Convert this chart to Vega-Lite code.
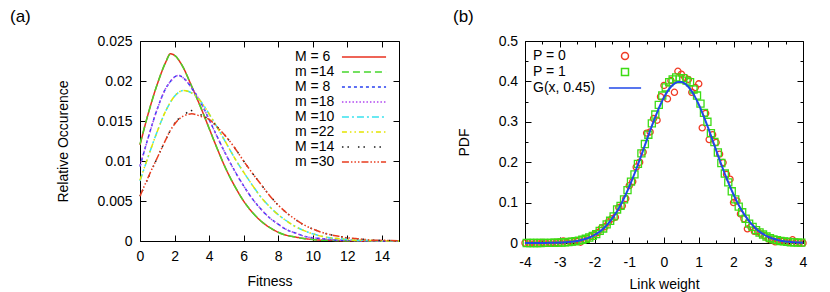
{
 "$schema": "https://vega.github.io/schema/vega-lite/v6.json",
 "padding": {"left": 9, "top": 7, "right": 5, "bottom": 0},
 "spacing": 49,
 "background": "white",
 "resolve": {"scale": {"color": "independent", "strokeDash": "independent", "shape": "independent"}, "legend": {"color": "independent", "strokeDash": "independent", "shape": "independent"}},
 "datasets": {
  "fit": [
   {"x":0,"M = 6":0.0120,"m =14":0.0121,"M = 8":0.0093,"m =18":0.0094,"M =10":0.0075,"m =22":0.0076,"M =14":0.0056,"m =30":0.0056},
   {"x":0.5,"M = 6":0.0161,"m =14":0.0161,"M = 8":0.0131,"m =18":0.0131,"M =10":0.0107,"m =22":0.0107,"M =14":0.0080,"m =30":0.0081},
   {"x":1,"M = 6":0.0196,"m =14":0.0196,"M = 8":0.0165,"m =18":0.0165,"M =10":0.0137,"m =22":0.0137,"M =14":0.0104,"m =30":0.0104},
   {"x":1.5,"M = 6":0.0224,"m =14":0.0224,"M = 8":0.0191,"m =18":0.0191,"M =10":0.0163,"m =22":0.0163,"M =14":0.0127,"m =30":0.0127},
   {"x":1.75,"M = 6":0.0234,"m =14":0.0233,"M = 8":0.0199,"m =18":0.0199,"M =10":0.0173,"m =22":0.0173,"M =14":0.0138,"m =30":0.0138},
   {"x":2,"M = 6":0.0232,"m =14":0.0232,"M = 8":0.0205,"m =18":0.0205,"M =10":0.0181,"m =22":0.0181,"M =14":0.0147,"m =30":0.0146},
   {"x":2.25,"M = 6":0.0226,"m =14":0.0226,"M = 8":0.0207,"m =18":0.0207,"M =10":0.0186,"m =22":0.0186,"M =14":0.0153,"m =30":0.0152},
   {"x":2.5,"M = 6":0.0217,"m =14":0.0217,"M = 8":0.0204,"m =18":0.0204,"M =10":0.0188,"m =22":0.0188,"M =14":0.0157,"m =30":0.0156},
   {"x":3,"M = 6":0.0193,"m =14":0.0193,"M = 8":0.0191,"m =18":0.0191,"M =10":0.0185,"m =22":0.0185,"M =14":0.0163,"m =30":0.0159},
   {"x":3.5,"M = 6":0.0168,"m =14":0.0168,"M = 8":0.0174,"m =18":0.0174,"M =10":0.0175,"m =22":0.0175,"M =14":0.0158,"m =30":0.0156},
   {"x":4,"M = 6":0.0141,"m =14":0.0141,"M = 8":0.0152,"m =18":0.0152,"M =10":0.0159,"m =22":0.0159,"M =14":0.0152,"m =30":0.0152},
   {"x":4.5,"M = 6":0.0114,"m =14":0.0114,"M = 8":0.0129,"m =18":0.0129,"M =10":0.0141,"m =22":0.0141,"M =14":0.0142,"m =30":0.0142},
   {"x":5,"M = 6":0.0089,"m =14":0.0089,"M = 8":0.0107,"m =18":0.0107,"M =10":0.0122,"m =22":0.0122,"M =14":0.0130,"m =30":0.0130},
   {"x":5.5,"M = 6":0.0068,"m =14":0.0068,"M = 8":0.0087,"m =18":0.0087,"M =10":0.0103,"m =22":0.0103,"M =14":0.0116,"m =30":0.0116},
   {"x":6,"M = 6":0.0050,"m =14":0.0050,"M = 8":0.0069,"m =18":0.0069,"M =10":0.0086,"m =22":0.0086,"M =14":0.0100,"m =30":0.0100},
   {"x":6.5,"M = 6":0.0036,"m =14":0.0036,"M = 8":0.0053,"m =18":0.0053,"M =10":0.0070,"m =22":0.0070,"M =14":0.0085,"m =30":0.0085},
   {"x":7,"M = 6":0.0025,"m =14":0.0025,"M = 8":0.0040,"m =18":0.0040,"M =10":0.0055,"m =22":0.0055,"M =14":0.0071,"m =30":0.0071},
   {"x":7.5,"M = 6":0.0017,"m =14":0.0017,"M = 8":0.0029,"m =18":0.0029,"M =10":0.0043,"m =22":0.0043,"M =14":0.0057,"m =30":0.0057},
   {"x":8,"M = 6":0.0011,"m =14":0.0011,"M = 8":0.0021,"m =18":0.0021,"M =10":0.0033,"m =22":0.0033,"M =14":0.0045,"m =30":0.0045},
   {"x":8.5,"M = 6":0.0007,"m =14":0.0007,"M = 8":0.0014,"m =18":0.0014,"M =10":0.0025,"m =22":0.0025,"M =14":0.0035,"m =30":0.0035},
   {"x":9,"M = 6":0.0005,"m =14":0.0005,"M = 8":0.0010,"m =18":0.0010,"M =10":0.0018,"m =22":0.0018,"M =14":0.0027,"m =30":0.0027},
   {"x":9.5,"M = 6":0.0003,"m =14":0.0003,"M = 8":0.0006,"m =18":0.0006,"M =10":0.0013,"m =22":0.0013,"M =14":0.0020,"m =30":0.0020},
   {"x":10,"M = 6":0.0002,"m =14":0.0002,"M = 8":0.0004,"m =18":0.0004,"M =10":0.0009,"m =22":0.0009,"M =14":0.0015,"m =30":0.0015},
   {"x":10.5,"M = 6":0.0001,"m =14":0.0001,"M = 8":0.0003,"m =18":0.0003,"M =10":0.0006,"m =22":0.0006,"M =14":0.0011,"m =30":0.0011},
   {"x":11,"M = 6":0.0001,"m =14":0.0001,"M = 8":0.0002,"m =18":0.0002,"M =10":0.0004,"m =22":0.0004,"M =14":0.0008,"m =30":0.0008},
   {"x":11.5,"M = 6":0.00005,"m =14":0.00005,"M = 8":0.0001,"m =18":0.0001,"M =10":0.0003,"m =22":0.0003,"M =14":0.0006,"m =30":0.0006},
   {"x":12,"M = 6":0.00003,"m =14":0.00003,"M = 8":0.0001,"m =18":0.0001,"M =10":0.0002,"m =22":0.0002,"M =14":0.0004,"m =30":0.0004},
   {"x":12.5,"M = 6":0.00002,"m =14":0.00002,"M = 8":0.00005,"m =18":0.00005,"M =10":0.0001,"m =22":0.0001,"M =14":0.0003,"m =30":0.0003},
   {"x":13,"M = 6":0.00001,"m =14":0.00001,"M = 8":0.00003,"m =18":0.00003,"M =10":0.0001,"m =22":0.0001,"M =14":0.0002,"m =30":0.0002},
   {"x":13.5,"M = 6":0,"m =14":0,"M = 8":0.00002,"m =18":0.00002,"M =10":0.00005,"m =22":0.00005,"M =14":0.0001,"m =30":0.0001},
   {"x":14,"M = 6":0,"m =14":0,"M = 8":0.00001,"m =18":0.00001,"M =10":0.00003,"m =22":0.00003,"M =14":0.0001,"m =30":0.0001},
   {"x":14.5,"M = 6":0,"m =14":0,"M = 8":0,"m =18":0,"M =10":0.00001,"m =22":0.00001,"M =14":0.00005,"m =30":0.00005},
   {"x":15,"M = 6":0,"m =14":0,"M = 8":0,"m =18":0,"M =10":0,"m =22":0,"M =14":0.00002,"m =30":0.00002}
  ],
  "p0": [
   {"x":-4,"y":0},{"x":-3.9,"y":0},{"x":-3.8,"y":0.0005},{"x":-3.7,"y":0},{"x":-3.6,"y":0},{"x":-3.5,"y":0.001},{"x":-3.4,"y":0},{"x":-3.3,"y":0.0005},{"x":-3.2,"y":0.001},{"x":-3.1,"y":0.001},
   {"x":-3.0,"y":0.002},{"x":-2.9,"y":0.005},{"x":-2.8,"y":0.002},{"x":-2.7,"y":0.004},{"x":-2.6,"y":0.003},{"x":-2.5,"y":0.004},{"x":-2.4,"y":0.002},{"x":-2.3,"y":0.008},{"x":-2.2,"y":0.011},{"x":-2.1,"y":0.017},
   {"x":-2.0,"y":0.022},{"x":-1.9,"y":0.026},{"x":-1.8,"y":0.037},{"x":-1.7,"y":0.040},{"x":-1.6,"y":0.052},{"x":-1.5,"y":0.060},{"x":-1.4,"y":0.064},{"x":-1.3,"y":0.088},{"x":-1.2,"y":0.092},{"x":-1.1,"y":0.110},
   {"x":-1.0,"y":0.142},{"x":-0.9,"y":0.152},{"x":-0.8,"y":0.188},{"x":-0.7,"y":0.200},{"x":-0.6,"y":0.225},{"x":-0.5,"y":0.272},{"x":-0.4,"y":0.275},{"x":-0.3,"y":0.308},{"x":-0.2,"y":0.304},{"x":-0.1,"y":0.362},
   {"x":0.0,"y":0.390},{"x":0.1,"y":0.357},{"x":0.2,"y":0.402},{"x":0.3,"y":0.373},{"x":0.4,"y":0.425},{"x":0.5,"y":0.418},{"x":0.6,"y":0.410},{"x":0.7,"y":0.405},{"x":0.8,"y":0.373},{"x":0.9,"y":0.385},
   {"x":1.0,"y":0.394},{"x":1.1,"y":0.285},{"x":1.2,"y":0.321},{"x":1.3,"y":0.256},{"x":1.4,"y":0.268},{"x":1.5,"y":0.249},{"x":1.6,"y":0.220},{"x":1.7,"y":0.199},{"x":1.8,"y":0.170},{"x":1.9,"y":0.158},
   {"x":2.0,"y":0.100},{"x":2.1,"y":0.104},{"x":2.2,"y":0.072},{"x":2.3,"y":0.060},{"x":2.4,"y":0.035},{"x":2.5,"y":0.040},{"x":2.6,"y":0.029},{"x":2.7,"y":0.028},{"x":2.8,"y":0.022},{"x":2.9,"y":0.018},
   {"x":3.0,"y":0.010},{"x":3.1,"y":0.008},{"x":3.2,"y":0.003},{"x":3.3,"y":0.004},{"x":3.4,"y":0.004},{"x":3.5,"y":0.002},{"x":3.6,"y":0.003},{"x":3.7,"y":0.008},{"x":3.8,"y":0.002},{"x":3.9,"y":0.001},{"x":4.0,"y":0}
  ],
  "p1": [
   {"x":-3.95,"y":0},{"x":-3.85,"y":0},{"x":-3.75,"y":0},{"x":-3.65,"y":0},{"x":-3.55,"y":0.0001},{"x":-3.45,"y":0.0002},{"x":-3.35,"y":0.0003},{"x":-3.25,"y":0.0004},{"x":-3.15,"y":0.0006},{"x":-3.05,"y":0.0009},
   {"x":-2.95,"y":0.0012},{"x":-2.85,"y":0.0017},{"x":-2.75,"y":0.0024},{"x":-2.65,"y":0.0033},{"x":-2.55,"y":0.0044},{"x":-2.45,"y":0.006},{"x":-2.35,"y":0.0079},{"x":-2.25,"y":0.0104},{"x":-2.15,"y":0.0136},{"x":-2.05,"y":0.0175},
   {"x":-1.95,"y":0.022},{"x":-1.85,"y":0.030},{"x":-1.75,"y":0.036},{"x":-1.65,"y":0.046},{"x":-1.55,"y":0.055},{"x":-1.45,"y":0.066},{"x":-1.35,"y":0.083},{"x":-1.25,"y":0.092},{"x":-1.15,"y":0.108},{"x":-1.05,"y":0.131},
   {"x":-0.95,"y":0.152},{"x":-0.85,"y":0.170},{"x":-0.75,"y":0.196},{"x":-0.65,"y":0.222},{"x":-0.55,"y":0.245},{"x":-0.45,"y":0.268},{"x":-0.35,"y":0.296},{"x":-0.25,"y":0.318},{"x":-0.15,"y":0.342},{"x":-0.05,"y":0.365},
   {"x":0.05,"y":0.385},{"x":0.15,"y":0.398},{"x":0.25,"y":0.405},{"x":0.35,"y":0.410},{"x":0.45,"y":0.405},{"x":0.55,"y":0.408},{"x":0.65,"y":0.402},{"x":0.75,"y":0.398},{"x":0.85,"y":0.380},{"x":0.95,"y":0.365},
   {"x":1.05,"y":0.345},{"x":1.15,"y":0.322},{"x":1.25,"y":0.300},{"x":1.35,"y":0.272},{"x":1.45,"y":0.250},{"x":1.55,"y":0.224},{"x":1.65,"y":0.198},{"x":1.75,"y":0.172},{"x":1.85,"y":0.150},{"x":1.95,"y":0.128},
   {"x":2.05,"y":0.108},{"x":2.15,"y":0.090},{"x":2.25,"y":0.076},{"x":2.35,"y":0.060},{"x":2.45,"y":0.048},{"x":2.55,"y":0.040},{"x":2.65,"y":0.032},{"x":2.75,"y":0.026},{"x":2.85,"y":0.021},{"x":2.95,"y":0.016},
   {"x":3.05,"y":0.012},{"x":3.15,"y":0.009},{"x":3.25,"y":0.007},{"x":3.35,"y":0.005},{"x":3.45,"y":0.004},{"x":3.55,"y":0.003},{"x":3.65,"y":0.002},{"x":3.75,"y":0.0015},{"x":3.85,"y":0.001},{"x":3.95,"y":0.0008}
  ],
  "g": [
   {"x":-4,"y":0},{"x":-3.9,"y":0},{"x":-3.8,"y":0.0001},{"x":-3.7,"y":0.0001},{"x":-3.6,"y":0.0001},{"x":-3.5,"y":0.0002},{"x":-3.4,"y":0.0002},{"x":-3.3,"y":0.0004},{"x":-3.2,"y":0.0005},{"x":-3.1,"y":0.0007},
   {"x":-3.0,"y":0.0010},{"x":-2.9,"y":0.0015},{"x":-2.8,"y":0.0020},{"x":-2.7,"y":0.0028},{"x":-2.6,"y":0.0038},{"x":-2.5,"y":0.0051},{"x":-2.4,"y":0.0069},{"x":-2.3,"y":0.0091},{"x":-2.2,"y":0.0119},{"x":-2.1,"y":0.0154},
   {"x":-2.0,"y":0.0198},{"x":-1.9,"y":0.0252},{"x":-1.8,"y":0.0317},{"x":-1.7,"y":0.0396},{"x":-1.6,"y":0.0488},{"x":-1.5,"y":0.0596},{"x":-1.4,"y":0.0721},{"x":-1.3,"y":0.0863},{"x":-1.2,"y":0.1023},{"x":-1.1,"y":0.1200},
   {"x":-1.0,"y":0.1394},{"x":-0.9,"y":0.1604},{"x":-0.8,"y":0.1826},{"x":-0.7,"y":0.2059},{"x":-0.6,"y":0.2299},{"x":-0.5,"y":0.2541},{"x":-0.4,"y":0.2780},{"x":-0.3,"y":0.3011},{"x":-0.2,"y":0.3230},{"x":-0.1,"y":0.3429},
   {"x":0.0,"y":0.3605},{"x":0.1,"y":0.3752},{"x":0.2,"y":0.3867},{"x":0.3,"y":0.3945},{"x":0.4,"y":0.3984},{"x":0.5,"y":0.3984},{"x":0.6,"y":0.3945},{"x":0.7,"y":0.3867},{"x":0.8,"y":0.3752},{"x":0.9,"y":0.3605},
   {"x":1.0,"y":0.3429},{"x":1.1,"y":0.3230},{"x":1.2,"y":0.3011},{"x":1.3,"y":0.2780},{"x":1.4,"y":0.2541},{"x":1.5,"y":0.2299},{"x":1.6,"y":0.2059},{"x":1.7,"y":0.1826},{"x":1.8,"y":0.1604},{"x":1.9,"y":0.1394},
   {"x":2.0,"y":0.1200},{"x":2.1,"y":0.1023},{"x":2.2,"y":0.0863},{"x":2.3,"y":0.0721},{"x":2.4,"y":0.0596},{"x":2.5,"y":0.0488},{"x":2.6,"y":0.0396},{"x":2.7,"y":0.0317},{"x":2.8,"y":0.0252},{"x":2.9,"y":0.0198},
   {"x":3.0,"y":0.0154},{"x":3.1,"y":0.0119},{"x":3.2,"y":0.0091},{"x":3.3,"y":0.0069},{"x":3.4,"y":0.0051},{"x":3.5,"y":0.0038},{"x":3.6,"y":0.0028},{"x":3.7,"y":0.0020},{"x":3.8,"y":0.0015},{"x":3.9,"y":0.0010},{"x":4.0,"y":0.0007}
  ]
 },
 "hconcat": [
  {
   "width": 259,
   "height": 200,
   "title": {"text": "(a)", "anchor": "start", "frame": "group", "dx": -130, "offset": 8},
   "data": {"name": "fit"},
   "transform": [{"fold": ["M = 6", "m =14", "M = 8", "m =18", "M =10", "m =22", "M =14", "m =30"], "as": ["s", "y"]}],
   "layer": [
    {
     "mark": {"type": "line", "strokeWidth": 1.5, "interpolate": "monotone"},
     "encoding": {
      "x": {"field": "x", "type": "quantitative", "scale": {"domain": [0, 15], "nice": false, "zero": false},
            "axis": {"orient": "bottom", "values": [0, 2, 4, 6, 8, 10, 12, 14], "tickSize": -6, "labelPadding": 14, "labelFlush": false, "labelOverlap": false, "labelExpr": "'' + datum.value", "title": "Fitness", "titlePadding": 11}},
      "y": {"field": "y", "type": "quantitative", "scale": {"domain": [0, 0.025], "nice": false},
            "axis": {"orient": "left", "values": [0, 0.005, 0.01, 0.015, 0.02, 0.025], "tickSize": -6, "labelPadding": 14, "labelFlush": false, "labelOverlap": false, "labelExpr": "'' + datum.value", "title": "Relative Occurence", "titlePadding": 26}},
      "color": {"field": "s", "type": "nominal",
                "scale": {"domain": ["M = 6", "m =14", "M = 8", "m =18", "M =10", "m =22", "M =14", "m =30"],
                          "range": ["#e8301e", "#46d62c", "#2840f0", "#b046f0", "#38e2ee", "#e4e400", "#1a1a1a", "#e83c1e"]},
                "legend": {"orient": "top-right", "offset": 9, "padding": 0, "title": null, "symbolType": "M-6.3,0H6.3", "symbolSize": 49, "symbolStrokeWidth": 1.5, "symbolOffset": 15, "labelAlign": "left", "labelOffset": -76, "rowPadding": 1, "labelLimit": 0}},
      "strokeDash": {"field": "s", "type": "nominal",
                "scale": {"domain": ["M = 6", "m =14", "M = 8", "m =18", "M =10", "m =22", "M =14", "m =30"],
                          "range": [[1, 0], [7, 4], [3, 3], [1.5, 2], [7, 3, 2, 3], [5, 3, 1.5, 3, 1.5, 3], [1.5, 4, 1.5, 9], [7, 2, 1.5, 2, 1.5, 2, 1.5, 2]]},
                "legend": {"orient": "top-right", "offset": 9, "padding": 0, "title": null, "symbolType": "M-6.3,0H6.3", "symbolSize": 49, "symbolStrokeWidth": 1.5, "symbolOffset": 15, "labelAlign": "left", "labelOffset": -76, "rowPadding": 1, "labelLimit": 0}}
     }
    },
    {
     "mark": {"type": "point", "opacity": 0},
     "encoding": {
      "x": {"field": "x", "type": "quantitative", "axis": {"orient": "top", "values": [0, 2, 4, 6, 8, 10, 12, 14], "tickSize": -6, "labels": false, "title": null}},
      "y": {"field": "y", "type": "quantitative", "axis": {"orient": "right", "values": [0, 0.005, 0.01, 0.015, 0.02, 0.025], "tickSize": -6, "labels": false, "title": null}}
     }
    }
   ],
   "resolve": {"axis": {"x": "independent", "y": "independent"}}
  },
  {
   "width": 278,
   "height": 202,
   "title": {"text": "(b)", "anchor": "start", "frame": "group", "dx": -72, "offset": 8},
   "layer": [
    {
     "data": {"name": "p0"},
     "mark": {"type": "point", "filled": false, "size": 38, "strokeWidth": 1.3, "opacity": 1},
     "encoding": {
      "x": {"field": "x", "type": "quantitative", "scale": {"domain": [-4, 4], "nice": false, "zero": false},
            "axis": {"orient": "bottom", "values": [-4, -3, -2, -1, 0, 1, 2, 3, 4], "tickSize": -6,
                     "labelPadding": 18.7, "labelFlush": false, "labelOverlap": false,
                     "labelExpr": "'' + datum.value", "title": "Link weight", "titlePadding": 8}},
      "y": {"field": "y", "type": "quantitative", "scale": {"domain": [0, 0.5], "nice": false},
            "axis": {"orient": "left", "values": [0, 0.1, 0.2, 0.3, 0.4, 0.5], "tickSize": -6,
                     "labelPadding": 13.4, "labelFlush": false, "labelOverlap": false,
                     "labelExpr": "'' + datum.value", "title": "PDF", "titlePadding": 27}},
      "color": {"datum": "P = 0", "type": "nominal",
                "scale": {"domain": ["P = 0", "P = 1", "G(x, 0.45)"], "range": ["#f03a24", "#3cdc14", "#2048e8"]},
                "legend": {"orient": "top-left", "offset": 8, "padding": 0, "title": null, "symbolSize": 49, "symbolStrokeWidth": 1.5, "symbolOffset": 85, "labelAlign": "left", "labelOffset": -99, "rowPadding": 2, "labelLimit": 0,
                           "encode": {"symbols": {"fill": {"value": "transparent"}, "opacity": {"value": 1}}}}},
      "shape": {"datum": "P = 0", "type": "nominal",
                "scale": {"domain": ["P = 0", "P = 1", "G(x, 0.45)"], "range": ["circle", "square", "M-4.6,0H4.6"]},
                "legend": {"orient": "top-left", "offset": 8, "padding": 0, "title": null, "symbolSize": 49, "symbolStrokeWidth": 1.5, "symbolOffset": 85, "labelAlign": "left", "labelOffset": -99, "rowPadding": 2, "labelLimit": 0,
                           "encode": {"symbols": {"fill": {"value": "transparent"}, "opacity": {"value": 1}}}}}
     }
    },
    {
     "data": {"name": "p1"},
     "mark": {"type": "point", "filled": false, "size": 50, "strokeWidth": 1.3, "opacity": 1},
     "encoding": {
      "x": {"field": "x", "type": "quantitative",
            "axis": {"orient": "bottom", "values": [-3.5, -2.5, -1.5, -0.5, 0.5, 1.5, 2.5, 3.5], "tickSize": -3, "labels": false, "title": null}},
      "y": {"field": "y", "type": "quantitative",
            "axis": {"orient": "left", "values": [0.05, 0.15, 0.25, 0.35, 0.45], "tickSize": -3, "labels": false, "title": null}},
      "color": {"datum": "P = 1", "type": "nominal"},
      "shape": {"datum": "P = 1", "type": "nominal"}
     }
    },
    {
     "data": {"name": "g"},
     "mark": {"type": "line", "strokeWidth": 2, "interpolate": "monotone"},
     "encoding": {
      "x": {"field": "x", "type": "quantitative",
            "axis": {"orient": "top", "values": [-4, -3, -2, -1, 0, 1, 2, 3, 4], "tickSize": -6, "labels": false, "title": null}},
      "y": {"field": "y", "type": "quantitative",
            "axis": {"orient": "right", "values": [0, 0.1, 0.2, 0.3, 0.4, 0.5], "tickSize": -6, "labels": false, "title": null}},
      "color": {"datum": "G(x, 0.45)", "type": "nominal"}
     }
    },
    {
     "data": {"name": "g"},
     "mark": {"type": "point", "opacity": 0},
     "encoding": {
      "x": {"field": "x", "type": "quantitative",
            "axis": {"orient": "top", "values": [-3.5, -2.5, -1.5, -0.5, 0.5, 1.5, 2.5, 3.5], "tickSize": -3, "labels": false, "title": null}},
      "y": {"field": "y", "type": "quantitative",
            "axis": {"orient": "right", "values": [0.05, 0.15, 0.25, 0.35, 0.45], "tickSize": -3, "labels": false, "title": null}}
     }
    }
   ],
   "resolve": {"axis": {"x": "independent", "y": "independent"}}
  }
 ],
 "config": {
  "font": "Liberation Sans",
  "view": {"stroke": "black", "strokeWidth": 1},
  "axis": {"grid": false, "domain": false, "labelFont": "Liberation Sans", "labelFontSize": 14, "labelColor": "black", "tickColor": "black", "tickWidth": 1,
           "titleFont": "Liberation Sans", "titleFontSize": 14, "titleFontWeight": "normal", "titleColor": "black"},
  "legend": {"labelFont": "Liberation Sans", "labelFontSize": 14, "labelColor": "black"},
  "title": {"font": "Liberation Sans", "fontSize": 17, "fontWeight": "normal", "color": "black"}
 }
}
